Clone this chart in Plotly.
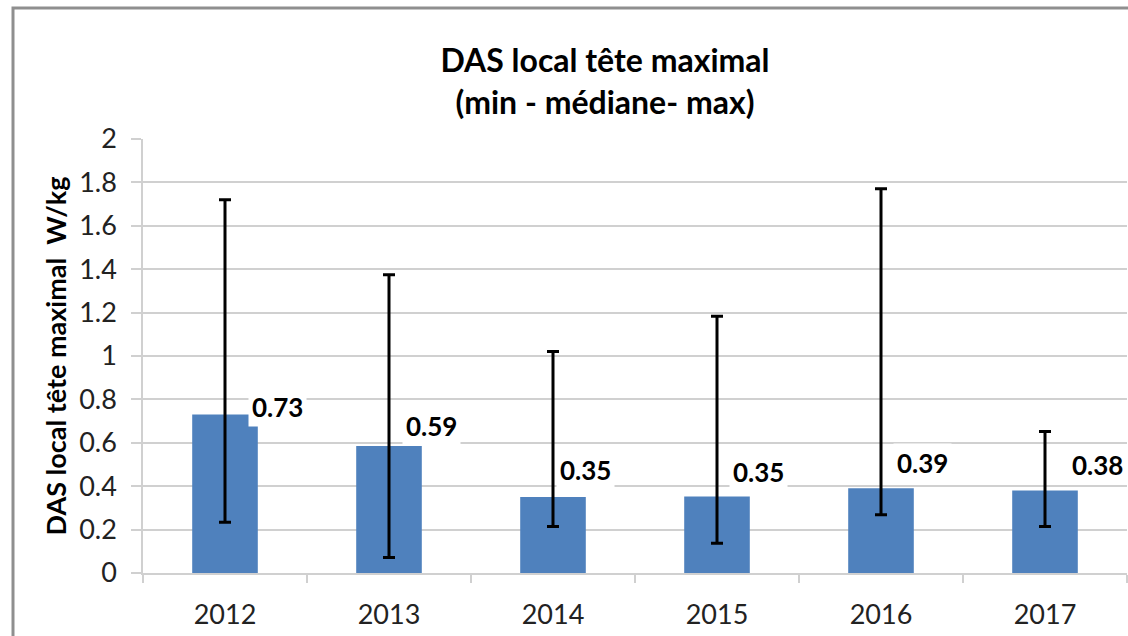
import plotly.graph_objects as go

years = ["2012", "2013", "2014", "2015", "2016", "2017"]
median = [0.73, 0.585, 0.35, 0.352, 0.39, 0.38]
vmin = [0.234, 0.072, 0.214, 0.137, 0.268, 0.214]
vmax = [1.72, 1.375, 1.021, 1.183, 1.771, 0.652]
labels = ["0.73", "0.59", "0.35", "0.35", "0.39", "0.38"]

# label placement (pixels) - styling only
label_dx = [52, 42, 32, 41, 41, 52]
label_dy = [8, 20, 27, 25, 25, 26]

FONT = "Lato"
BLUE = "#4f81bd"
GRID = "#d0d0d0"

W, H = 1128, 636
L, R, T, B = 143, 1, 139, 63
pw, ph = W - L - R, H - T - B

xpos = list(range(len(years)))

fig = go.Figure()
fig.add_trace(go.Bar(
    x=xpos, y=median, width=0.4,
    marker=dict(color=BLUE, line=dict(width=0)),
    error_y=dict(type="data", symmetric=False,
                 array=[mx - m for mx, m in zip(vmax, median)],
                 arrayminus=[m - mn for m, mn in zip(median, vmin)],
                 color="black", thickness=3, width=6),
    showlegend=False, hoverinfo="skip",
))

for xp, m, lab, dx, dy in zip(xpos, median, labels, label_dx, label_dy):
    fig.add_annotation(x=xp, y=m, text="<b>" + lab + "</b>", showarrow=False,
                       xshift=dx, yshift=dy, xanchor="center", yanchor="middle",
                       font=dict(family=FONT, size=26, color="black"),
                       bgcolor="white", borderpad=3)

fig.add_shape(type="rect", xref="paper", yref="paper",
              x0=(13 - L) / pw, x1=1.2, y0=-0.4, y1=(H - B - 8) / ph,
              line=dict(color="#8f8f8f", width=3), fillcolor="rgba(0,0,0,0)",
              layer="above")

fig.update_layout(
    width=W, height=H,
    margin=dict(l=L, r=R, t=T, b=B, autoexpand=False),
    paper_bgcolor="white", plot_bgcolor="white",
    font=dict(family=FONT, color="black"),
    title=dict(text="<b>DAS local tête maximal<br>(min - médiane- max)</b>",
               x=(605 - L) / pw, xref="paper", xanchor="center",
               y=1 - 72 / H, yref="container", yanchor="top",
               font=dict(family=FONT, size=32, color="black")),
)
fig.update_yaxes(range=[0, 2], dtick=0.2, showgrid=True, gridcolor=GRID, gridwidth=1.5,
                 showline=True, linecolor=GRID, linewidth=1.5,
                 ticks="outside", ticklen=10, tickcolor=GRID, tickwidth=1.5,
                 ticklabelstandoff=9,
                 tickfont=dict(family=FONT, size=27, color="#222"),
                 zeroline=False,
                 title=dict(text="<b>DAS local tête maximal  W/kg</b>", standoff=5,
                            font=dict(family=FONT, size=27, color="black")))
fig.update_xaxes(type="linear", range=[-0.5, len(years) - 0.5],
                 tickmode="array", tickvals=xpos, ticktext=years,
                 showline=True, linecolor=GRID, linewidth=1.5, showgrid=False, zeroline=False,
                 ticks="", ticklabelstandoff=17,
                 minor=dict(tickmode="array", tickvals=[i - 0.5 for i in range(len(years) + 1)],
                            ticks="outside", ticklen=8, tickcolor=GRID, tickwidth=1.5,
                            showgrid=False),
                 tickfont=dict(family=FONT, size=27, color="#222"))

fig.write_html("out.html",
               config={"displayModeBar": False},
               post_script="document.body.style.margin='0';"
                           "document.body.style.overflow='hidden';")
